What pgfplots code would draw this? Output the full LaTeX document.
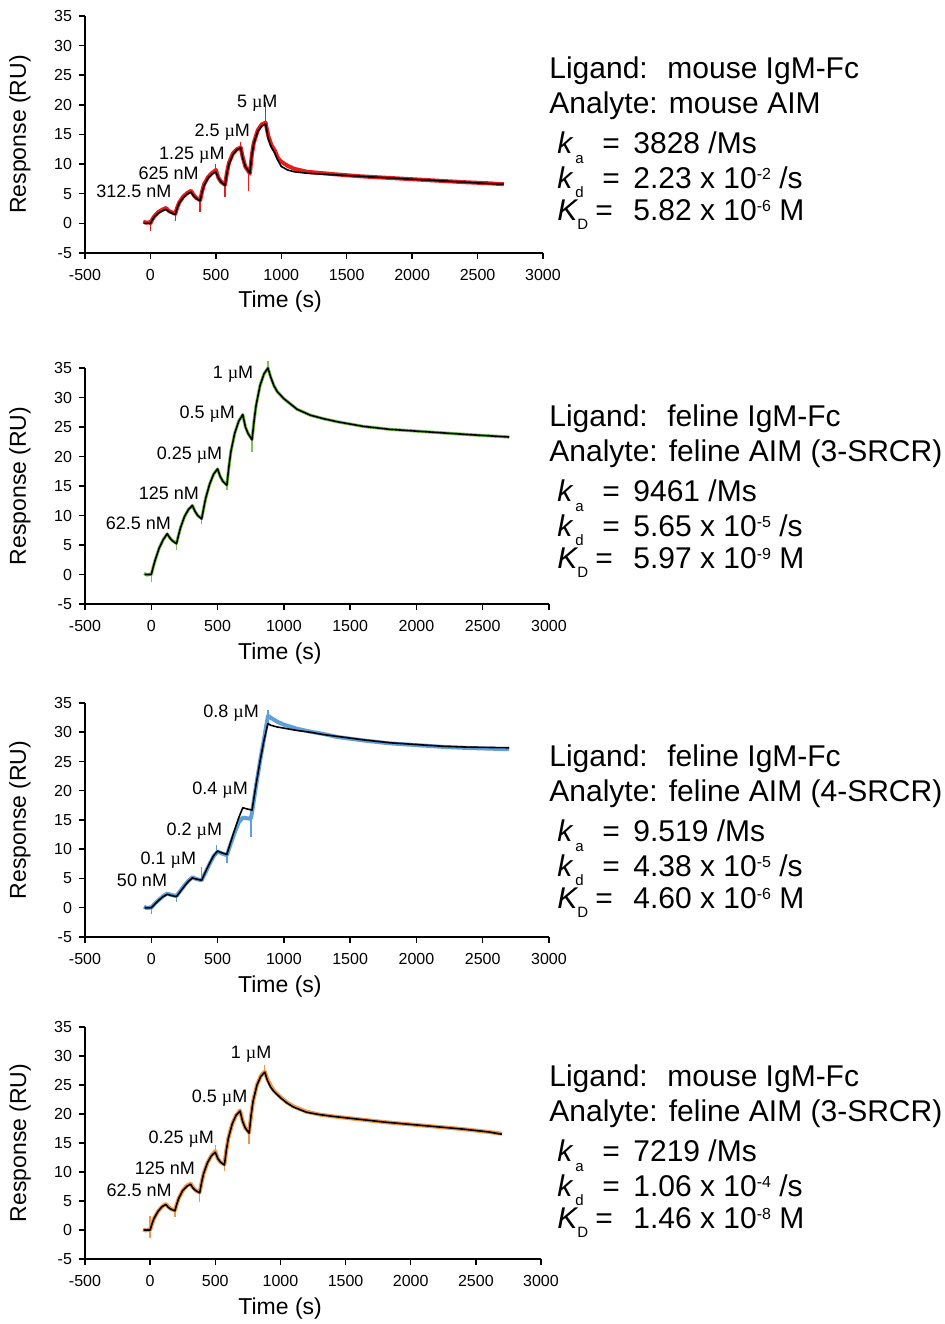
\documentclass[border=0pt]{standalone}
\usepackage{fontspec}
\setmainfont{Liberation Sans}
\newfontfamily\mufont{Liberation Serif}
\usepackage{pgfplots}
\pgfplotsset{compat=1.18}
\newcommand{\uM}{{\mufont µ}M}
\definecolor{cred}{RGB}{232,28,28}
\definecolor{cgreen}{RGB}{125,195,85}
\definecolor{cblue}{RGB}{95,160,220}
\definecolor{corange}{RGB}{240,150,75}
\tikzset{
  conc/.style={font=\fontsize{9}{10}\selectfont, inner sep=0pt},
  fit/.style={black, line width=0.8pt, line join=round},
  dat/.style={line width=2pt, line join=round},
  spk/.style={line width=0.7pt},
}
\pgfplotsset{
  spr/.style={
    scale only axis,
    axis lines=left,
    axis line style={-, line width=0.75pt},
    xmin=-500, xmax=3000, ymin=-5, ymax=35,
    xtick={-500,0,500,1000,1500,2000,2500,3000},
    xticklabels={-500,0,500,1000,1500,2000,2500,3000},
    ytick={-5,0,5,10,15,20,25,30,35},
    yticklabels={-5,0,5,10,15,20,25,30,35},
    tick align=outside,
    major tick length=3pt,
    tick style={black, line width=0.75pt},
    tick label style={font=\fontsize{8}{9}\selectfont},
    xticklabel style={yshift=-1.5pt},
    label style={font=\fontsize{11.5}{12}\selectfont},
    xlabel={Time (s)}, ylabel={Response (RU)},
    ylabel style={at={(axis description cs:-0.142,0.5)}, anchor=center},
    unbounded coords=jump,
    clip=false,
  },
}
\newcommand{\info}[7]{%
  \begin{scope}[shift={(274.5pt,#1)}]
  \node[anchor=base west, inner sep=0pt, font=\fontsize{15}{16}\selectfont] at (0pt,0pt) {Ligand:};
  \node[anchor=base west, inner sep=0pt, font=\fontsize{15}{16}\selectfont] at (59pt,0pt) {#2};
  \node[anchor=base west, inner sep=0pt, font=\fontsize{15}{16}\selectfont] at (0pt,-17.2pt) {Analyte: #3};
  \node[anchor=base west, inner sep=0pt, font=\fontsize{15}{16}\selectfont\itshape] at (4pt,-37.5pt) {k};
  \node[anchor=base west, inner sep=0pt, font=\fontsize{7.5}{8}\selectfont] at (13pt,-42.2pt) {a};
  \node[anchor=base west, inner sep=0pt, font=\fontsize{15}{16}\selectfont] at (26.5pt,-37.5pt) {=};
  \node[anchor=base west, inner sep=0pt, font=\fontsize{15}{16}\selectfont] at (42pt,-37.5pt) {#4};
  \node[anchor=base west, inner sep=0pt, font=\fontsize{15}{16}\selectfont\itshape] at (4pt,-54.7pt) {k};
  \node[anchor=base west, inner sep=0pt, font=\fontsize{7.5}{8}\selectfont] at (13pt,-59.4pt) {d};
  \node[anchor=base west, inner sep=0pt, font=\fontsize{15}{16}\selectfont] at (26.5pt,-54.7pt) {=};
  \node[anchor=base west, inner sep=0pt, font=\fontsize{15}{16}\selectfont] at (42pt,-54.7pt) {#5};
  \node[anchor=base west, inner sep=0pt, font=\fontsize{15}{16}\selectfont\itshape] at (4pt,-70.8pt) {K};
  \node[anchor=base west, inner sep=0pt, font=\fontsize{7.5}{8}\selectfont] at (14pt,-75.5pt) {D};
  \node[anchor=base west, inner sep=0pt, font=\fontsize{15}{16}\selectfont] at (23pt,-70.8pt) {=};
  \node[anchor=base west, inner sep=0pt, font=\fontsize{15}{16}\selectfont] at (42pt,-70.8pt) {#6};
  \end{scope}}
\newcommand{\sx}[1]{\raisebox{4.6pt}{\fontsize{8}{8}\selectfont #1}}
\begin{document}
\begin{tikzpicture}
\useasboundingbox (0pt,0pt) rectangle (472pt,662pt);
% ---------------- Panel 1 ----------------
\begin{axis}[spr, at={(42.5pt,535.5pt)}, anchor=south west, width=229pt, height=118.5pt,
  xlabel style={at={(axis description cs:0.426,-0.205)}, anchor=center}]
\addplot[cred, dat] coordinates {
(-55,0.3) (-30,0.1) (-5,0.2) (0,0) (15,0.7) (30,1.2) (60,1.9) (90,2.3) (120,2.6)
(140,2.1) (160,1.9) (190,1.6) (205,2.7) (220,3.5) (250,4.5) (280,5.1) (310,5.5)
(330,4.8) (350,4.3) (380,3.9) (395,5.4) (410,6.6) (440,7.8) (470,8.5) (500,9.0)
(520,7.7) (540,7.0) (570,6.5) (585,8.6) (600,10.2) (630,11.8)
(660,12.5) (690,12.8) (705,11.2) (725,9.6) (760,8.4)
(775,11.6) (790,13.6) (820,15.7) (850,16.7) (880,17.0) (900,14.8) (925,13.2)
(950,12.3) (975,11.0) (1000,10.4) (1050,9.7) (1100,9.2) (1200,8.7) (1400,8.3) (1600,7.95) (1800,7.7)
(2000,7.45) (2200,7.2) (2400,6.95) (2600,6.75) (2700,6.6)};
\addplot[cred, spk] coordinates {
(0,0.3) (0,-1.3) (1,nan) (190,1.7) (190,0.4) (191,nan) (380,4.0) (380,2.0) (381,nan)
(498,8.8) (498,10.0) (499,nan) (570,6.6) (570,4.5) (571,nan) (688,12.7) (688,13.8) (689,nan)
(748,8.7) (748,5.4) (749,nan) (880,17.0) (880,20.5)};
\addplot[fit] coordinates {
(-50,0) (0,0) (15,0.6) (30,1.1) (60,1.7) (90,2.1) (120,2.35) (140,2.0) (160,1.75) (190,1.5)
(205,2.6) (220,3.4) (250,4.3) (280,4.9) (310,5.3) (330,4.6) (350,4.2) (380,3.8)
(395,5.3) (410,6.4) (440,7.6) (470,8.3) (500,8.7) (520,7.6) (540,7.0) (570,6.4)
(585,8.5) (600,10.0) (630,11.6) (660,12.4) (690,12.75) (705,11.0) (725,9.6) (760,8.5)
(775,11.5) (790,13.5) (820,15.5) (850,16.4) (880,16.8) (900,14.3) (925,12.8) (950,11.9) (975,10.6)
(1000,9.6) (1050,9.0) (1100,8.7) (1200,8.45) (1400,8.2) (1600,7.95) (1800,7.7) (2000,7.45)
(2200,7.2) (2400,6.95) (2600,6.7) (2700,6.6)};
\node[conc] at (axis cs:816,20.3) {5 \uM};
\node[conc] at (axis cs:549,15.4) {2.5 \uM};
\node[conc] at (axis cs:317,11.5) {1.25 \uM};
\node[conc] at (axis cs:139,8.4) {625 nM};
\node[conc] at (axis cs:-126,5.45) {312.5 nM};
\end{axis}
% ---------------- Panel 2 ----------------
\begin{axis}[spr, at={(42.5pt,360pt)}, anchor=south west, width=232pt, height=118pt,
  xlabel style={at={(axis description cs:0.42,-0.208)}, anchor=center},
  ylabel style={at={(axis description cs:-0.140,0.5)}}]
\addplot[cgreen, dat, line width=1.6pt] coordinates {
(-55,0.2) (-30,-0.1) (-5,0.1) (0,0) (15,1.3) (30,2.5) (60,4.5) (90,5.9) (120,6.9)
(140,6.2) (160,5.7) (190,5.3) (205,6.6) (220,7.9) (250,9.8) (280,11.0) (310,11.7)
(330,10.7) (350,10.0) (380,9.5) (395,11.2) (410,12.9) (440,15.3) (470,17.0) (500,17.9)
(520,16.6) (540,15.8) (570,15.2) (585,18.2) (600,20.8) (630,24.0) (660,26.0) (690,27.1)
(710,25.0) (730,23.9) (760,22.9) (775,26.0) (790,28.6) (820,32.0) (850,34.0)
(880,35.0) (900,33.5) (925,32.0) (950,31.0) (1000,29.8) (1100,28.0) (1200,27.0)
(1300,26.4) (1400,25.9) (1500,25.5) (1600,25.1) (1800,24.6) (2000,24.3) (2200,24.0) (2400,23.7) (2700,23.3)};
\addplot[cgreen, spk] coordinates {
(0,0.3) (0,-1.3) (1,nan) (190,5.3) (190,4.1) (191,nan) (380,9.5) (380,8.6) (381,nan)
(570,15.2) (570,14.3) (571,nan) (760,22.9) (760,20.7) (761,nan) (880,35.0) (880,36.2)};
\addplot[fit] coordinates {
(-50,0) (0,0) (15,1.3) (30,2.5) (60,4.5) (90,5.9) (120,6.9) (140,6.2) (160,5.7) (190,5.2)
(205,6.6) (220,7.9) (250,9.8) (280,11.0) (310,11.7) (330,10.7) (350,10.0) (380,9.4)
(395,11.2) (410,12.9) (440,15.3) (470,17.0) (500,17.9) (520,16.6) (540,15.8) (570,15.1)
(585,18.2) (600,20.8) (630,24.0) (660,26.0) (690,27.1) (710,25.0) (730,23.9) (760,22.8)
(775,26.0) (790,28.6) (820,32.0) (850,34.0) (880,35.0) (900,33.5) (925,32.0) (950,31.0)
(1000,29.8) (1100,28.0) (1200,27.0) (1300,26.4) (1400,25.9) (1500,25.5) (1600,25.1) (1800,24.6)
(2000,24.3) (2200,24.0) (2400,23.7) (2700,23.3)};
\node[conc] at (axis cs:616,33.9) {1 \uM};
\node[conc] at (axis cs:422,27.1) {0.5 \uM};
\node[conc] at (axis cs:288,20.3) {0.25 \uM};
\node[conc] at (axis cs:132,13.8) {125 nM};
\node[conc] at (axis cs:-97,8.7) {62.5 nM};
\end{axis}
% ---------------- Panel 3 ----------------
\begin{axis}[spr, at={(42.5pt,193.5pt)}, anchor=south west, width=232pt, height=117pt,
  xlabel style={at={(axis description cs:0.42,-0.21)}, anchor=center},
  ylabel style={at={(axis description cs:-0.140,0.5)}}]
\addplot[cblue, dat] coordinates {
(-55,0.2) (-30,-0.1) (-5,0.1) (0,0) (30,0.8) (60,1.4) (90,2.0) (120,2.4)
(150,2.2) (190,2.0) (220,2.9) (250,3.8) (280,4.6) (310,5.2)
(340,4.9) (380,4.7) (410,6.1) (440,7.5) (470,8.8) (500,9.6)
(530,9.3) (570,9.0) (600,11.0) (630,12.9) (660,14.6) (690,15.4)
(720,15.3) (750,15.2) (760,16.3) (790,20.8) (820,25.0) (850,28.8) (880,32.8)
(900,32.5) (950,31.8) (1000,31.3) (1100,30.6) (1200,30.1) (1300,29.7)
(1400,29.2) (1500,28.9) (1600,28.6) (1800,28.1) (2000,27.8) (2200,27.5) (2400,27.3) (2700,27.1)};
\addplot[cblue, spk] coordinates {
(0,0.5) (0,-1.0) (1,nan) (190,2.0) (190,1.0) (191,nan) (380,4.7) (380,7.0) (381,nan)
(490,9.6) (490,10.8) (491,nan) (570,9.0) (570,7.6) (571,nan) (753,15.3) (753,12.1) (754,nan)
(880,32.5) (880,33.8)};
\addplot[fit] coordinates {
(-50,0) (0,0) (30,0.7) (60,1.35) (90,1.9) (120,2.3) (150,2.1) (190,1.9)
(220,2.8) (250,3.7) (280,4.5) (310,5.1) (340,4.9) (380,4.7)
(410,6.2) (440,7.6) (470,8.9) (500,9.7) (530,9.4) (570,9.1)
(600,11.3) (630,13.4) (660,15.4) (690,17.1) (720,16.9) (760,16.7)
(790,21.0) (820,25.0) (850,28.6) (880,31.5) (900,31.2) (950,30.9) (1000,30.7) (1100,30.3)
(1200,30.0) (1300,29.6) (1400,29.3) (1500,29.0) (1600,28.7) (1800,28.2) (2000,27.9) (2200,27.6)
(2400,27.45) (2700,27.35)};
\node[conc] at (axis cs:602,33.3) {0.8 \uM};
\node[conc] at (axis cs:519,20.1) {0.4 \uM};
\node[conc] at (axis cs:325,13.1) {0.2 \uM};
\node[conc] at (axis cs:129,8.1) {0.1 \uM};
\node[conc] at (axis cs:-70,4.7) {50 nM};
\end{axis}
% ---------------- Panel 4 ----------------
\begin{axis}[spr, at={(42.5pt,32.5pt)}, anchor=south west, width=228pt, height=116pt,
  xlabel style={at={(axis description cs:0.428,-0.215)}, anchor=center}]
\addplot[corange, dat] coordinates {
(-55,0.1) (-30,-0.1) (-5,0.1) (0,0) (15,1.1) (30,2.0) (60,3.2) (90,4.0) (120,4.5)
(140,4.0) (160,3.6) (190,3.4) (205,4.5) (220,5.5) (250,6.8) (280,7.6) (310,8.0)
(330,7.3) (350,6.8) (380,6.5) (395,8.2) (410,9.7) (440,11.6) (470,12.8) (500,13.6)
(520,12.3) (540,11.7) (570,11.3) (585,13.8) (600,15.8)
(630,18.3) (660,19.8) (690,20.6) (710,18.8) (730,17.6) (760,16.8) (775,19.8)
(790,22.2) (820,25.0) (850,26.6) (880,27.3) (900,26.0) (925,24.9) (950,24.0)
(1000,22.9) (1050,22.0) (1100,21.3) (1200,20.4) (1300,19.9) (1400,19.6) (1600,19.1) (1800,18.6)
(2000,18.2) (2200,17.8) (2400,17.4) (2600,16.9) (2700,16.6)};
\addplot[corange, spk] coordinates {
(0,2.4) (0,-1.4) (1,nan) (190,3.4) (190,2.2) (191,nan) (380,6.5) (380,4.8) (381,nan)
(500,13.4) (500,14.6) (501,nan) (570,11.3) (570,10.2) (571,nan) (760,16.8) (760,14.8) (761,nan)
(880,27.3) (880,28.4)};
\addplot[fit] coordinates {
(-50,0) (0,0) (15,1.1) (30,2.0) (60,3.2) (90,4.0) (120,4.4) (140,3.9) (160,3.6) (190,3.3)
(205,4.5) (220,5.5) (250,6.8) (280,7.5) (310,7.9) (330,7.2) (350,6.8) (380,6.4)
(395,8.2) (410,9.7) (440,11.6) (470,12.8) (500,13.4) (520,12.3) (540,11.7) (570,11.2)
(585,13.8) (600,15.8) (630,18.3) (660,19.8) (690,20.5) (710,18.7) (730,17.6) (760,16.7)
(775,19.8) (790,22.2) (820,25.0) (850,26.5) (880,27.2) (900,25.8) (925,24.6) (950,23.9)
(1000,22.8) (1050,21.9) (1100,21.2) (1200,20.3) (1300,19.9) (1400,19.6) (1600,19.1) (1800,18.6)
(2000,18.2) (2200,17.8) (2400,17.4) (2600,16.9) (2700,16.5)};
\node[conc] at (axis cs:775,30.3) {1 \uM};
\node[conc] at (axis cs:533,22.8) {0.5 \uM};
\node[conc] at (axis cs:239,15.7) {0.25 \uM};
\node[conc] at (axis cs:113,10.6) {125 nM};
\node[conc] at (axis cs:-85,6.8) {62.5 nM};
\end{axis}
% ---------------- Right-hand texts ----------------
\info{622.5pt}{mouse IgM-Fc}{mouse AIM}{3828 /Ms}{2.23 x 10\sx{-2} /s}{5.82 x 10\sx{-6} M}{}
\info{448.5pt}{feline IgM-Fc}{feline AIM (3-SRCR)}{9461 /Ms}{5.65 x 10\sx{-5} /s}{5.97 x 10\sx{-9} M}{}
\info{278.5pt}{feline IgM-Fc}{feline AIM (4-SRCR)}{9.519 /Ms}{4.38 x 10\sx{-5} /s}{4.60 x 10\sx{-6} M}{}
\info{118.5pt}{mouse IgM-Fc}{feline AIM (3-SRCR)}{7219 /Ms}{1.06 x 10\sx{-4} /s}{1.46 x 10\sx{-8} M}{}
\end{tikzpicture}
\end{document}
